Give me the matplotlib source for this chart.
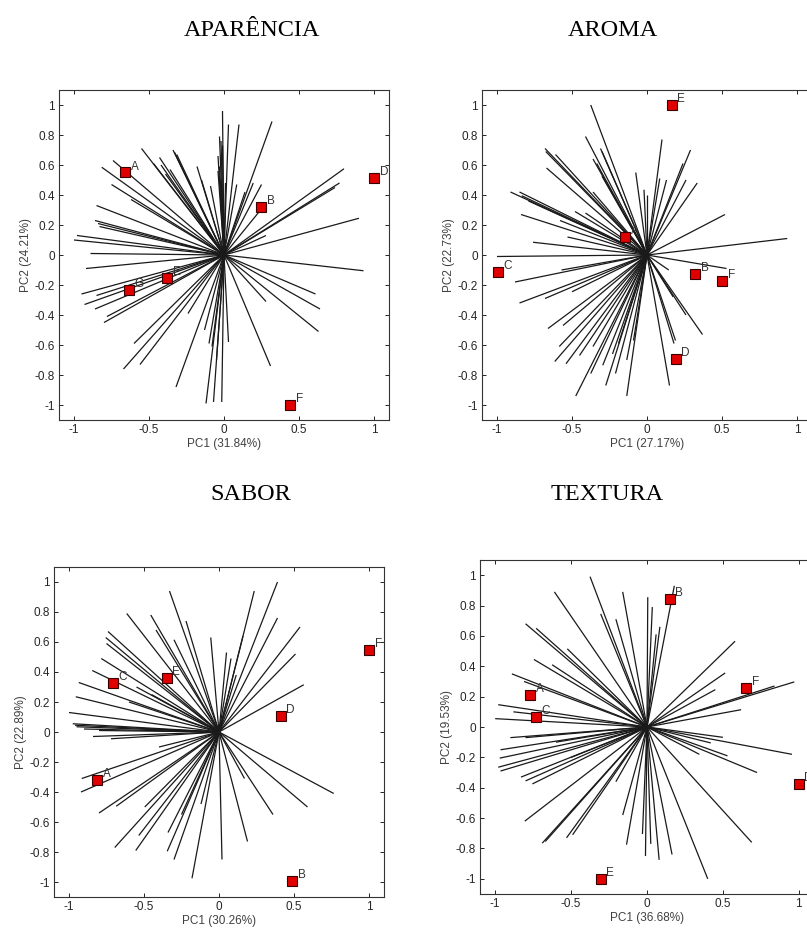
import matplotlib
matplotlib.use("Agg")
import matplotlib.pyplot as plt
from matplotlib.ticker import FormatStrFormatter

# ---- APARENCIA ----
aparencia_loadings = [
    (-0.01, 0.96), (0.03, 0.87), (0.10, 0.87), (0.32, 0.89), (-0.03, 0.79), (-0.02, 0.76),
    (-0.01, 0.73), (-0.04, 0.66), (-0.03, 0.59), (-0.02, 0.50), (0.01, 0.48), (-0.04, 0.56),
    (-0.55, 0.71), (-0.34, 0.70), (-0.33, 0.685), (-0.315, 0.67), (-0.42, 0.60), (-0.36, 0.57),
    (-0.18, 0.59), (-0.15, 0.50), (-0.09, 0.46), (-0.43, 0.65), (-0.47, 0.61), (-0.39, 0.54),
    (-0.74, 0.63), (-0.815, 0.585), (-0.75, 0.47), (-0.62, 0.37), (-0.85, 0.33), (-0.86, 0.23),
    (-0.84, 0.21), (-0.83, 0.19), (-0.98, 0.13), (-1.0, 0.10), (-0.89, 0.01),
    (-0.92, -0.09), (-0.95, -0.26), (-0.93, -0.33), (-0.86, -0.36), (-0.85, -0.27), (-0.80, -0.45),
    (-0.78, -0.41), (-0.60, -0.59), (-0.67, -0.76), (-0.56, -0.73), (-0.32, -0.88), (-0.24, -0.39),
    (-0.12, -0.99), (-0.07, -0.98), (-0.015, -0.98), (-0.13, -0.50), (-0.10, -0.59), (-0.08, -0.61),
    (-0.05, -0.70), (0.03, -0.58), (0.31, -0.74), (0.28, -0.31), (0.61, -0.26), (0.64, -0.36),
    (0.63, -0.51), (0.93, -0.105), (0.90, 0.245), (0.80, 0.575), (0.77, 0.48), (0.74, 0.45),
    (0.28, 0.13), (0.25, 0.47), (0.085, 0.47), (0.14, 0.42), (0.195, 0.48), (0.26, 0.32),
]
aparencia_names = ["A", "B", "D", "E", "G", "F"]
aparencia_x = [-0.66, 0.25, 1.0, -0.38, -0.635, 0.44]
aparencia_y = [0.55, 0.32, 0.515, -0.155, -0.235, -1.0]

# ---- AROMA ----
aroma_loadings = [
    (-0.375, 1.0), (-0.41, 0.79), (-0.68, 0.71), (-0.675, 0.69), (-0.61, 0.67), (-0.67, 0.58),
    (-0.36, 0.64), (-0.30, 0.69), (-0.91, 0.42), (-0.85, 0.42), (-0.835, 0.395), (-0.79, 0.36),
    (-0.84, 0.27), (-0.48, 0.29), (-0.76, 0.085), (-0.58, 0.23), (-0.53, 0.12), (-1.0, -0.01),
    (-0.88, -0.18), (-0.85, -0.32), (-0.68, -0.29), (-0.57, -0.10), (-0.50, -0.245), (-0.66, -0.49),
    (-0.585, -0.61), (-0.615, -0.71), (-0.54, -0.725), (-0.56, -0.47), (-0.475, -0.94), (-0.45, -0.67),
    (-0.375, -0.79), (-0.36, -0.61), (-0.295, -0.735), (-0.275, -0.87), (-0.23, -0.66), (-0.21, -0.79),
    (-0.19, -0.59), (-0.135, -0.94), (-0.135, -0.70), (-0.09, -0.57), (0.18, -0.59), (0.19, -0.57),
    (0.15, -0.87), (0.26, -0.40), (0.37, -0.53), (0.145, -0.10), (0.175, -0.28), (0.53, -0.09),
    (0.935, 0.11), (0.52, 0.27), (0.29, 0.70), (0.24, 0.61), (0.26, 0.50), (0.335, 0.48),
    (0.10, 0.77), (0.085, 0.51), (0.13, 0.50), (-0.075, 0.55), (-0.02, 0.435), (0.0, 0.40),
    (-0.335, 0.61), (-0.30, 0.525), (-0.31, 0.71), (-0.36, 0.42), (-0.41, 0.28),
]
aroma_names = ["E", "A", "C", "B", "F", "D"]
aroma_x = [0.165, -0.147, -0.995, 0.32, 0.50, 0.19]
aroma_y = [1.0, 0.118, -0.116, -0.127, -0.17, -0.69]

# ---- SABOR ----
sabor_loadings = [
    (0.39, 1.0), (0.235, 0.94), (0.54, 0.70), (0.51, 0.52), (0.565, 0.315), (0.05, 0.53),
    (0.08, 0.49), (-0.055, 0.63), (0.115, 0.38), (0.39, 0.76), (0.16, 0.64),
    (-0.33, 0.94), (-0.615, 0.79), (-0.455, 0.78), (-0.42, 0.68), (-0.22, 0.74), (-0.30, 0.615),
    (-0.74, 0.67), (-0.755, 0.63), (-0.75, 0.59), (-0.785, 0.49), (-0.845, 0.41), (-0.935, 0.33),
    (-0.955, 0.235), (-1.0, 0.13), (-0.975, 0.055), (-0.96, 0.045), (-0.95, 0.035), (-0.90, 0.02),
    (-0.84, -0.03), (-0.72, -0.045), (-0.80, 0.01), (-0.60, 0.20), (-0.55, 0.30), (-0.45, 0.25),
    (-0.915, -0.31), (-0.92, -0.40), (-0.80, -0.54), (-0.685, -0.495), (-0.695, -0.77), (-0.555, -0.79),
    (-0.535, -0.69), (-0.495, -0.50), (-0.34, -0.67), (-0.345, -0.795), (-0.30, -0.85), (-0.12, -0.48),
    (-0.18, -0.975), (-0.25, -0.55), (0.02, -0.85), (0.19, -0.73), (0.17, -0.31), (0.36, -0.55),
    (0.59, -0.50), (0.765, -0.41), (-0.40, -0.10),
]
sabor_names = ["F", "C", "E", "D", "A", "B"]
sabor_x = [1.0, -0.705, -0.35, 0.41, -0.81, 0.487]
sabor_y = [0.545, 0.33, 0.36, 0.105, -0.32, -0.99]

# ---- TEXTURA ----
textura_loadings = [
    (-0.375, 0.99), (-0.61, 0.89), (-0.16, 0.89), (0.005, 0.855), (0.035, 0.79), (0.18, 0.93),
    (-0.205, 0.71), (-0.305, 0.745), (0.085, 0.66), (0.06, 0.61), (-0.80, 0.68), (-0.73, 0.65),
    (-0.525, 0.515), (-0.745, 0.445), (-0.625, 0.41), (-0.89, 0.35), (-0.81, 0.30), (-0.98, 0.147),
    (-1.0, 0.055), (-0.88, 0.10), (-0.80, -0.07), (0.58, 0.565), (0.515, 0.356), (0.45, 0.246),
    (0.97, 0.297), (0.62, 0.114), (0.84, 0.27), (-0.90, -0.07), (-0.965, -0.15), (-0.97, -0.205),
    (-0.98, -0.265), (-0.965, -0.29), (-0.83, -0.33), (-0.80, -0.355), (-0.755, -0.375), (-0.805, -0.62),
    (-0.69, -0.765), (-0.67, -0.754), (-0.53, -0.73), (-0.49, -0.71), (-0.205, -0.36), (-0.16, -0.58),
    (-0.135, -0.775), (-0.03, -0.705), (-0.01, -0.85), (0.025, -0.77), (0.08, -0.875), (0.165, -0.84),
    (0.40, -1.0), (0.69, -0.76), (0.725, -0.30), (0.955, -0.18), (0.50, -0.068), (0.345, -0.18),
    (0.53, -0.19), (0.42, -0.105), (-0.60, -0.10), (-0.50, -0.20),
]
textura_names = ["B", "A", "C", "F", "E", "D"]
textura_x = [0.15, -0.77, -0.73, 0.655, -0.305, 1.0]
textura_y = [0.846, 0.213, 0.066, 0.257, -1.0, -0.373]

titles = ["APARÊNCIA", "AROMA", "SABOR", "TEXTURA"]
xlabels = ["PC1 (31.84%)", "PC1 (27.17%)", "PC1 (30.26%)", "PC1 (36.68%)"]
ylabels = ["PC2 (24.21%)", "PC2 (22.73%)", "PC2 (22.89%)", "PC2 (19.53%)"]

panels = [
    (aparencia_loadings, aparencia_names, aparencia_x, aparencia_y),
    (aroma_loadings, aroma_names, aroma_x, aroma_y),
    (sabor_loadings, sabor_names, sabor_x, sabor_y),
    (textura_loadings, textura_names, textura_x, textura_y),
]

W, H = 807, 930
fig = plt.figure(figsize=(W / 100, H / 100), dpi=100)

# axes boxes in pixels: left, top, width, height
boxes = [(59, 90, 330, 330), (482, 90, 330, 330), (54, 567, 330, 330), (480, 560, 334, 334)]
title_pos = [(252, 30), (613, 30), (251, 494), (607, 494)]

for i, (loads, names, px, py) in enumerate(panels):
    l, t, w, h = boxes[i]
    ax = fig.add_axes([l / W, (H - t - h) / H, w / W, h / H])
    for lx, ly in loads:
        ax.plot([0, lx], [0, ly], color="0.1", lw=0.9, solid_capstyle="butt")
    ax.plot(px, py, "s", ms=6.8, mfc="#e00000", mec="#3a0000", mew=0.8, ls="none")
    for n, x, y in zip(names, px, py):
        ax.annotate(n, (x, y), xytext=(4, 0), textcoords="offset points",
                    fontsize=8.5, color="0.2", family="Liberation Sans", va="bottom", ha="left")
    ax.set_xlim(-1.1, 1.1)
    ax.set_ylim(-1.1, 1.1)
    ax.set_xticks([-1, -0.5, 0, 0.5, 1])
    ax.set_yticks([-1, -0.8, -0.6, -0.4, -0.2, 0, 0.2, 0.4, 0.6, 0.8, 1])
    ax.xaxis.set_major_formatter(FormatStrFormatter("%g"))
    ax.yaxis.set_major_formatter(FormatStrFormatter("%g"))
    ax.tick_params(direction="in", top=True, right=True, length=3, width=0.6,
                   labelsize=8.5, labelcolor="0.15", pad=3)
    for lab in ax.get_xticklabels() + ax.get_yticklabels():
        lab.set_family("Liberation Sans")
    for s in ax.spines.values():
        s.set_linewidth(0.8)
        s.set_color("0.2")
    ax.set_xlabel(xlabels[i], fontsize=8.5, color="0.25", family="Liberation Sans", labelpad=1)
    ax.set_ylabel(ylabels[i], fontsize=8.5, color="0.25", family="Liberation Sans", labelpad=2)
    tx, ty = title_pos[i]
    fig.text(tx / W, 1 - ty / H, titles[i], fontsize=17.5, family="Liberation Serif",
             ha="center", va="center")

fig.savefig("out.png", dpi=100)
